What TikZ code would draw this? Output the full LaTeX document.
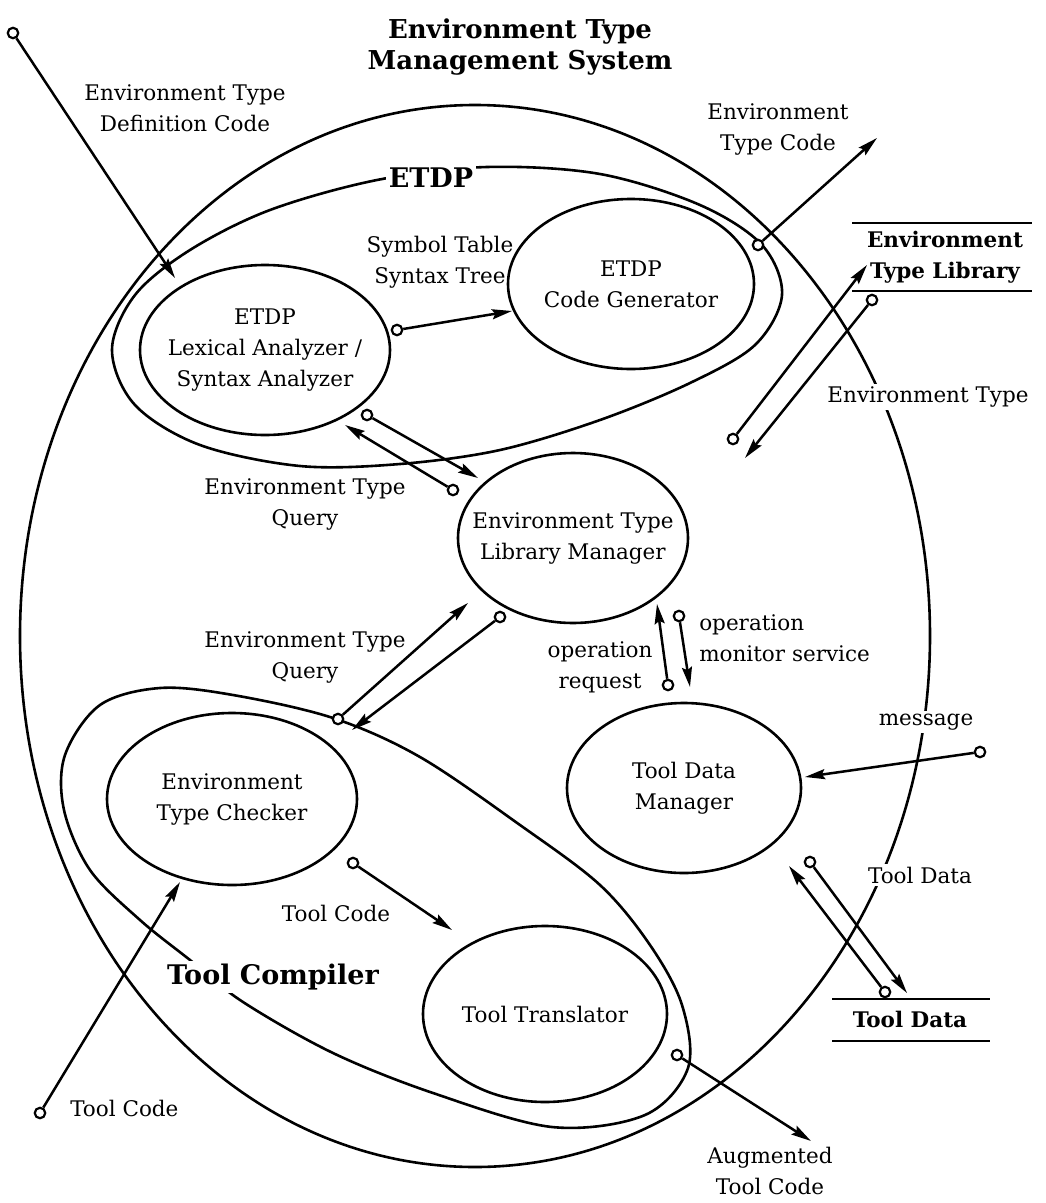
\documentclass[tikz,border=0pt]{standalone}
\usepackage{fontspec}
\setmainfont{DejaVu Serif}
\usetikzlibrary{arrows.meta,shapes.geometric}

\begin{document}
\begin{tikzpicture}[x=1pt,y=-1pt,line width=2.6pt,line join=round,
  every node/.style={font=\fontsize{21.5}{31}\selectfont},
  proc/.style={draw,ellipse,inner sep=0pt},
  txt/.style={align=center,inner sep=1pt},
  mask/.style={fill=white,align=center,inner sep=3pt},
  heading/.style={font=\fontsize{26}{31}\selectfont\bfseries,align=center},
  grouplab/.style={mask,font=\fontsize{27}{31}\selectfont\bfseries},
  storelab/.style={align=center,inner sep=1pt,font=\fontsize{21.5}{31}\selectfont\bfseries},
  storeline/.style={line width=2.8pt},
  tail/.style={draw,circle,fill=white,minimum size=10.5pt,inner sep=0pt,line width=2.2pt},
  flow/.style={-{Stealth[length=20pt,width=10pt,inset=3pt]},line width=2.5pt}]
\useasboundingbox (0,0) rectangle (1046,1203);

% ---------- system boundary ----------
\node[proc,minimum width=910pt,minimum height=1062pt] (sys) at (475,636) {};
\node[heading] (title) at (520,47) {Environment Type\\Management System};

% ---------- ETDP group ----------
\draw plot[smooth cycle,tension=0.55] coordinates {
  (487,167) (600,174) (700,205) (762,245) (782,295) (755,345)
  (690,383) (600,420) (500,450) (400,464) (300,466) (200,445)
  (135,405) (112,350) (135,295) (190,250) (270,210) (377,180)};
\node[grouplab] (etdp) at (431,178) {ETDP};

% ---------- Tool Compiler group ----------
\draw plot[smooth cycle,tension=0.55] coordinates {
  (243,1002) (333,1053) (433,1093) (552,1127) (645,1115) (688,1068)
  (682,1005) (650,945) (600,885) (520,825) (420,757) (333,718)
  (233,695) (160,688) (100,705) (65,755) (64,810) (90,870)
  (140,920) (190,960)};
\node[grouplab] (tcomp) at (273,977) {Tool Compiler};

% ---------- processes ----------
\node[proc,minimum width=250pt,minimum height=170pt] (lex) at (265,350) {};
\node[txt] (lexT) at (lex) {ETDP\\Lexical Analyzer /\\Syntax Analyzer};
\node[proc,minimum width=246pt,minimum height=170pt] (gen) at (631,284) {};
\node[txt] (genT) at (gen) {ETDP\\Code Generator};
\node[proc,minimum width=230pt,minimum height=170pt] (lib) at (573,538) {};
\node[txt] (libT) at (lib) {Environment Type\\Library Manager};
\node[proc,minimum width=234pt,minimum height=170pt] (tdm) at (684,788) {};
\node[txt] (tdmT) at (tdm) {Tool Data\\Manager};
\node[proc,minimum width=250pt,minimum height=172pt] (chk) at (232,799) {};
\node[txt] (chkT) at (chk) {Environment\\Type Checker};
\node[proc,minimum width=244pt,minimum height=176pt] (trn) at (545,1014) {};
\node[txt] (trnT) at (trn) {Tool Translator};

% ---------- data stores ----------
\draw[storeline] (852,223) -- (1032,223) (852,291) -- (1032,291);
\node[storelab] (libstore) at (945,257) {Environment\\Type Library};
\draw[storeline] (832,999) -- (990,999) (832,1041) -- (990,1041);
\node[storelab] (tdstore) at (910,1019) {Tool Data};

% ---------- labels on boundaries ----------
\node[mask] (etlab) at (928,397) {Environment Type};
\node[mask] (msglab) at (926,722) {message};
\node[mask] (tdlab) at (920,875) {Tool Data};

% ---------- free labels ----------
\node[txt] (deflab) at (185,108) {Environment Type\\Definition Code};
\node[txt] (symlab) at (440,262) {Symbol Table\\Syntax Tree};
\node[txt] (etclab) at (778,129) {Environment\\Type Code};
\node[txt] (q1) at (305,504) {Environment Type\\Query};
\node[txt] (q2) at (305,657) {Environment Type\\Query};
\node[txt] (oprq) at (600,667) {operation\\request};
\node[txt,align=left,anchor=west] (opms) at (697,638) {operation\\monitor service};
\node[txt,anchor=west] (tc1) at (68,1108) {Tool Code};
\node[txt] (tc2) at (336,913) {Tool Code};
\node[txt] (aug) at (770,1171) {Augmented\\Tool Code};

% ---------- flows ----------
\node[tail] (t1) at (13,33) {};   \coordinate (h1) at (175,278);
\node[tail] (t2) at (397,330) {}; \coordinate (h2) at (512,311);
\node[tail] (t3) at (758,245) {}; \coordinate (h3) at (877,138);
\node[tail] (t4) at (733,439) {}; \coordinate (h4) at (867,265);
\node[tail] (t5) at (872,300) {}; \coordinate (h5) at (745,458);
\node[tail] (t6) at (367,415) {}; \coordinate (h6) at (478,478);
\node[tail] (t7) at (453,490) {}; \coordinate (h7) at (345,425);
\node[tail] (t8) at (338,719) {}; \coordinate (h8) at (468,603);
\node[tail] (t9) at (500,617) {}; \coordinate (h9) at (352,730);
\node[tail] (t10) at (668,685) {}; \coordinate (h10) at (657,604);
\node[tail] (t11) at (679,616) {}; \coordinate (h11) at (690,687);
\node[tail] (t12) at (980,752) {}; \coordinate (h12) at (805,777);
\node[tail] (t13) at (885,992) {}; \coordinate (h13) at (789,866);
\node[tail] (t14) at (810,862) {}; \coordinate (h14) at (907,993);
\node[tail] (t15) at (40,1113) {}; \coordinate (h15) at (180,882);
\node[tail] (t16) at (353,863) {}; \coordinate (h16) at (452,930);
\node[tail] (t17) at (677,1055) {}; \coordinate (h17) at (811,1141);
\foreach \i in {1,...,17} {\draw[flow] (t\i) -- (h\i);}
\end{tikzpicture}
\end{document}
